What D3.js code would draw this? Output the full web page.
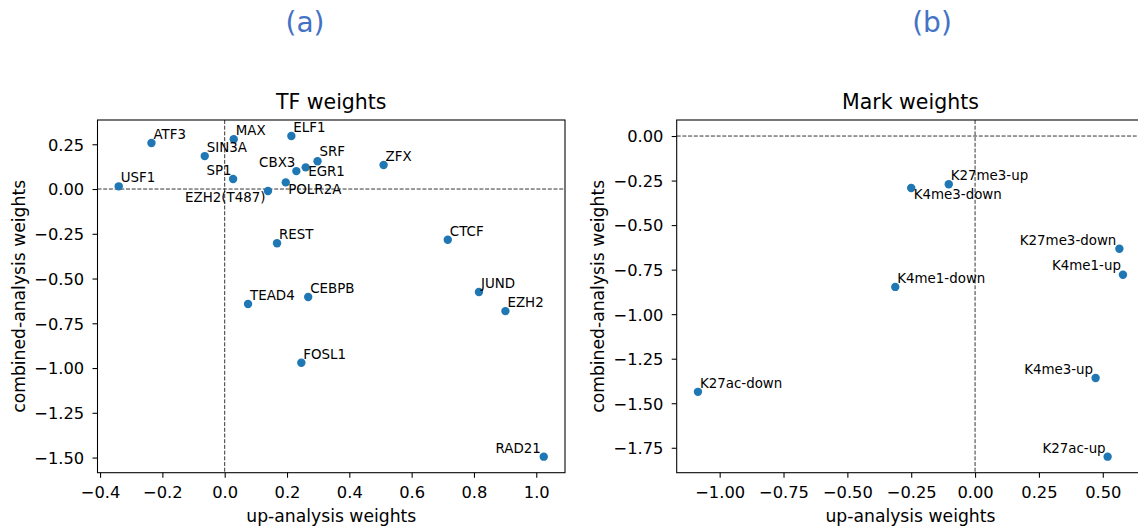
<!DOCTYPE html>
<html>
<head>
<meta charset="utf-8">
<script src="https://cdn.jsdelivr.net/npm/d3@7"></script>
<style>
  body { margin: 0; background: #fff; }
  svg { display: block; }
  text { font-family: "DejaVu Sans", sans-serif; }
</style>
</head>
<body>
<svg id="chart" width="1138" height="531"></svg>
<script>
// ---- TF weights ----
const tfNames = ["ATF3", "USF1", "SIN3A", "MAX", "SP1", "EZH2(T487)", "ELF1", "CBX3", "EGR1", "SRF",
                 "POLR2A", "ZFX", "REST", "CTCF", "JUND", "EZH2", "TEAD4", "CEBPB", "FOSL1", "RAD21"];
const tfUp = [-0.235, -0.340, -0.064, 0.029, 0.027, 0.139, 0.214, 0.230, 0.260, 0.298,
              0.196, 0.510, 0.168, 0.716, 0.816, 0.901, 0.075, 0.268, 0.246, 1.024];
const tfCombined = [0.257, 0.015, 0.184, 0.278, 0.056, -0.011, 0.296, 0.100, 0.121, 0.155,
                    0.037, 0.134, -0.303, -0.283, -0.575, -0.682, -0.642, -0.603, -0.970, -1.495];
const tfXTicks = [-0.4, -0.2, 0.0, 0.2, 0.4, 0.6, 0.8, 1.0];
const tfYTicks = [-1.50, -1.25, -1.00, -0.75, -0.50, -0.25, 0.00, 0.25];

// ---- Mark weights ----
const markNames = ["K27me3-up", "K4me3-down", "K27me3-down", "K4me1-up", "K4me1-down",
                   "K27ac-down", "K4me3-up", "K27ac-up"];
const markUp = [-0.103, -0.250, 0.565, 0.579, -0.3125, -1.085, 0.472, 0.519];
const markCombined = [-0.271, -0.292, -0.633, -0.779, -0.847, -1.436, -1.358, -1.800];
const markXTicks = [-1.00, -0.75, -0.50, -0.25, 0.00, 0.25, 0.50];
const markYTicks = [-1.75, -1.50, -1.25, -1.00, -0.75, -0.50, -0.25, 0.00];

// Label placement relative to each dot: [dx, dy, anchor]; anything not listed sits up-right.
const labelPlacement = {
  "SP1": [-1.5, -4, "end"],
  "EZH2(T487)": [-2.5, 11, "end"],
  "CBX3": [-1, -4, "end"],
  "EGR1": [2.5, 9, "start"],
  "SRF": [2, -5, "start"],
  "POLR2A": [2.5, 12, "start"],
  "RAD21": [-3, -4, "end"],
  "K4me3-down": [2.5, 11, "start"],
  "K27me3-down": [-3, -4, "end"],
  "K4me1-up": [-2, -4.5, "end"],
  "K4me3-up": [-2.5, -4.4, "end"],
  "K27ac-up": [-2, -4, "end"]
};
const defaultPlacement = [2, -4, "start"];

const svg = d3.select("#chart");
svg.append("rect").attr("width", 1138).attr("height", 531).attr("fill", "#fff");

const TOP = 120, BOTTOM = 472.7;
const POINT_COLOR = "#1f77b4";

// data extent including the zero reference line, padded 5% each side
function paddedExtent(vals) {
  const lo = Math.min(0, d3.min(vals)), hi = Math.max(0, d3.max(vals));
  const pad = (hi - lo) * 0.05;
  return [lo - pad, hi + pad];
}

function drawPanel(opts) {
  const { left, width, names, xs, ys, xTicks, yTicks, xFmt, yFmt, title, tag, tagX } = opts;
  const right = left + width;
  const x = d3.scaleLinear().domain(paddedExtent(xs)).range([left, right]);
  const y = d3.scaleLinear().domain(paddedExtent(ys)).range([BOTTOM, TOP]);
  const g = svg.append("g");

  // zero reference lines
  g.append("line")
    .attr("x1", left).attr("x2", right).attr("y1", y(0)).attr("y2", y(0))
    .attr("stroke", "#000").attr("stroke-width", 0.8).attr("stroke-dasharray", "4,1.7");
  g.append("line")
    .attr("x1", x(0)).attr("x2", x(0)).attr("y1", TOP).attr("y2", BOTTOM)
    .attr("stroke", "#000").attr("stroke-width", 0.8).attr("stroke-dasharray", "4,1.7");

  // points
  const data = names.map((n, i) => ({ name: n, up: xs[i], comb: ys[i] }));
  g.selectAll("circle.pt").data(data).join("circle")
    .attr("class", "pt")
    .attr("cx", d => x(d.up)).attr("cy", d => y(d.comb))
    .attr("r", 4.2).attr("fill", POINT_COLOR);

  // point labels
  g.selectAll("text.lbl").data(data).join("text")
    .attr("class", "lbl")
    .attr("x", d => x(d.up) + (labelPlacement[d.name] || defaultPlacement)[0])
    .attr("y", d => y(d.comb) + (labelPlacement[d.name] || defaultPlacement)[1])
    .attr("text-anchor", d => (labelPlacement[d.name] || defaultPlacement)[2])
    .attr("font-size", 13.4).attr("fill", "#000")
    .text(d => d.name);

  // axes
  const xAxis = g.append("g").attr("transform", `translate(0,${BOTTOM})`)
    .call(d3.axisBottom(x).tickValues(xTicks).tickFormat(d3.format(xFmt))
      .tickSize(5).tickSizeOuter(0).tickPadding(8.3));
  xAxis.select(".domain").remove();
  xAxis.selectAll(".tick line").attr("stroke", "#000").attr("stroke-width", 1.07);
  xAxis.selectAll(".tick text").attr("font-size", 16.3).attr("fill", "#000")
    .attr("font-family", "DejaVu Sans, sans-serif").attr("y", 25.5).attr("dy", 0);

  const yAxis = g.append("g").attr("transform", `translate(${left},0)`)
    .call(d3.axisLeft(y).tickValues(yTicks).tickFormat(d3.format(yFmt))
      .tickSize(5).tickSizeOuter(0).tickPadding(8.3));
  yAxis.select(".domain").remove();
  yAxis.selectAll(".tick line").attr("stroke", "#000").attr("stroke-width", 1.07);
  yAxis.selectAll(".tick text").attr("font-size", 16.3).attr("fill", "#000")
    .attr("font-family", "DejaVu Sans, sans-serif").attr("dy", "0.36em");

  // frame
  g.append("rect")
    .attr("x", left).attr("y", TOP).attr("width", width).attr("height", BOTTOM - TOP)
    .attr("fill", "none").attr("stroke", "#000").attr("stroke-width", 1.07);

  // titles
  const cx = left + width / 2;
  g.append("text").attr("x", cx).attr("y", 108.5).attr("text-anchor", "middle")
    .attr("font-size", 20.5).attr("fill", "#000").text(title);
  g.append("text").attr("x", cx).attr("y", 522).attr("text-anchor", "middle")
    .attr("font-size", 17.2).attr("fill", "#000").text("up-analysis weights");
  g.append("text")
    .attr("transform", `translate(${left - 73},${(TOP + BOTTOM) / 2}) rotate(-90)`)
    .attr("text-anchor", "middle").attr("font-size", 17.2).attr("fill", "#000")
    .text("combined-analysis weights");

  // panel tag
  svg.append("text").attr("x", tagX).attr("y", 32).attr("text-anchor", "middle")
    .attr("font-size", 28).attr("fill", "#4472C4").text(tag);
}

drawPanel({
  left: 97.5, width: 467.5,
  names: tfNames, xs: tfUp, ys: tfCombined,
  xTicks: tfXTicks, yTicks: tfYTicks, xFmt: ".1f", yFmt: ".2f",
  title: "TF weights", tag: "(a)", tagX: 305
});

drawPanel({
  left: 676.7, width: 467.5,
  names: markNames, xs: markUp, ys: markCombined,
  xTicks: markXTicks, yTicks: markYTicks, xFmt: ".2f", yFmt: ".2f",
  title: "Mark weights", tag: "(b)", tagX: 932
});
</script>
</body>
</html>
